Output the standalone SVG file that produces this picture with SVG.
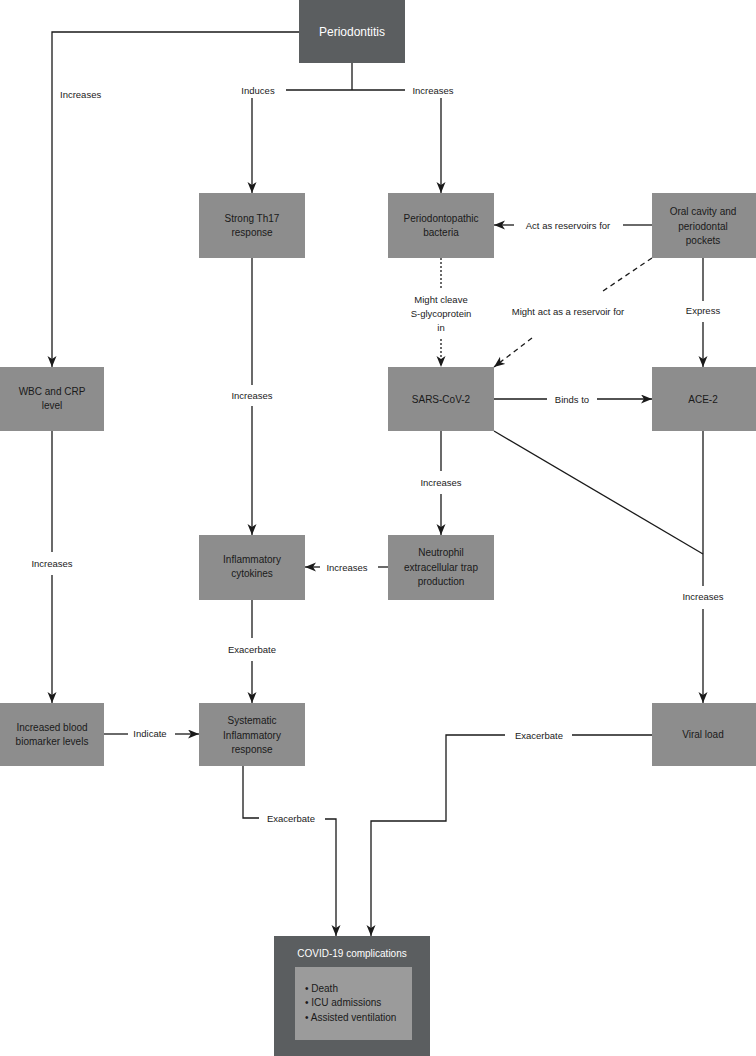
<svg xmlns="http://www.w3.org/2000/svg" width="756" height="1056" viewBox="0 0 756 1056">
<defs>
<marker id="arr" markerUnits="userSpaceOnUse" markerWidth="12" markerHeight="10" refX="11" refY="4.5" orient="auto">
<path d="M0,0 L11,4.5 L0,9 L3,4.5 z" fill="#1a1a1a"/>
</marker>
</defs>
<style>
.node{fill:#8d8d8d}
.dark{fill:#5b5e60}
.inner{fill:#9b9b9b}
.nt{font-family:"Liberation Sans",Arial,sans-serif;font-size:10px;fill:#1a1a1a;text-anchor:middle}
.wt{font-family:"Liberation Sans",Arial,sans-serif;fill:#ffffff;text-anchor:middle}
.lbl{font-family:"Liberation Sans",Arial,sans-serif;font-size:9.5px;fill:#1a1a1a;text-anchor:middle}
.c{fill:none;stroke:#1a1a1a;stroke-width:1.3}
.a{marker-end:url(#arr)}
.dot{stroke-dasharray:2,2}
.dash{stroke-dasharray:5,4}
</style>
<rect width="756" height="1056" fill="#ffffff"/>

<g id="connectors">
<!-- Periodontitis to WBC -->
<path class="c a" d="M299,32 H52 V367"/>
<!-- Periodontitis down split -->
<path class="c" d="M352,63 V90 M286,90 H405"/>
<path class="c a" d="M252,98 V193"/>
<path class="c a" d="M441,98 V193"/>
<!-- Oral cavity to Periodontopathic -->
<path class="c" d="M652,225 H623"/>
<path class="c a" d="M514,225 H494"/>
<!-- Periodontopathic dotted to SARS -->
<path class="c dot" d="M441,258 V289"/>
<path class="c dot a" d="M441,339 V367"/>
<!-- Oral cavity dashed to SARS -->
<path class="c dash" d="M652,258 L600,293"/>
<path class="c dash a" d="M532,338 L494,367"/>
<!-- Express -->
<path class="c" d="M703,258 V301"/>
<path class="c a" d="M703,322 V367"/>
<!-- Th17 to cytokines -->
<path class="c" d="M252,258 V385"/>
<path class="c a" d="M252,406 V535"/>
<!-- Binds to -->
<path class="c" d="M494,399 H547"/>
<path class="c a" d="M597,399 H652"/>
<!-- SARS diagonal to viral load line -->
<path class="c" d="M494,431 L703,554"/>
<!-- ACE-2 to viral load -->
<path class="c" d="M703,431 V586"/>
<path class="c a" d="M703,609 V703"/>
<!-- SARS to NET -->
<path class="c" d="M441,431 V471"/>
<path class="c a" d="M441,494 V535"/>
<!-- NET to cytokines -->
<path class="c" d="M388,567 H378"/>
<path class="c a" d="M320,567 H305"/>
<!-- WBC to biomarkers -->
<path class="c" d="M52,431 V552"/>
<path class="c a" d="M52,575 V703"/>
<!-- cytokines to systematic -->
<path class="c" d="M252,600 V638"/>
<path class="c a" d="M252,661 V703"/>
<!-- Indicate -->
<path class="c" d="M104,734 H128"/>
<path class="c a" d="M175,734 H199"/>
<!-- Viral load exacerbate -->
<path class="c" d="M652,735 H572"/>
<path class="c a" d="M505,735 H446 V821 H371 V936"/>
<!-- Systematic exacerbate -->
<path class="c" d="M243,766 V818 H259"/>
<path class="c a" d="M325,819 H336 V936"/>
</g>

<g id="labels">
<text class="lbl" x="60" y="97.5" style="text-anchor:start">Increases</text>
<text class="lbl" x="258" y="93.5">Induces</text>
<text class="lbl" x="433" y="93.5">Increases</text>
<text class="lbl" x="568" y="228.5">Act as reservoirs for</text>
<text class="lbl" x="441" y="302.5">Might cleave</text>
<text class="lbl" x="441" y="316.5">S-glycoprotein</text>
<text class="lbl" x="441" y="330.5">in</text>
<text class="lbl" x="568" y="314.5">Might act as a reservoir for</text>
<text class="lbl" x="703" y="313.5">Express</text>
<text class="lbl" x="252" y="398.5">Increases</text>
<text class="lbl" x="572" y="402.5">Binds to</text>
<text class="lbl" x="441" y="485.5">Increases</text>
<text class="lbl" x="703" y="599.5">Increases</text>
<text class="lbl" x="347" y="570.5">Increases</text>
<text class="lbl" x="52" y="566.5">Increases</text>
<text class="lbl" x="252" y="652.5">Exacerbate</text>
<text class="lbl" x="150" y="736.5">Indicate</text>
<text class="lbl" x="539" y="738.5">Exacerbate</text>
<text class="lbl" x="291" y="821.5">Exacerbate</text>
</g>

<g id="periodontitis">
<rect class="dark" x="299" y="0" width="106" height="63"/>
<text class="wt" x="352" y="36" font-size="12">Periodontitis</text>
</g>
<g id="th17">
<rect class="node" x="199" y="193" width="106" height="65"/>
<text class="nt" x="252" y="222">Strong Th17</text>
<text class="nt" x="252" y="236">response</text>
</g>
<g id="bacteria">
<rect class="node" x="388" y="193" width="106" height="65"/>
<text class="nt" x="441" y="222">Periodontopathic</text>
<text class="nt" x="441" y="236">bacteria</text>
</g>
<g id="oral">
<rect class="node" x="652" y="193" width="104" height="65"/>
<text class="nt" x="703" y="215">Oral cavity and</text>
<text class="nt" x="703" y="229.5">periodontal</text>
<text class="nt" x="703" y="244">pockets</text>
</g>
<g id="wbc">
<rect class="node" x="0" y="367" width="104" height="64"/>
<text class="nt" x="52" y="395">WBC and CRP</text>
<text class="nt" x="52" y="409">level</text>
</g>
<g id="sars">
<rect class="node" x="388" y="367" width="106" height="64"/>
<text class="nt" x="441" y="402.5">SARS-CoV-2</text>
</g>
<g id="ace2">
<rect class="node" x="652" y="367" width="104" height="64"/>
<text class="nt" x="703" y="402.5">ACE-2</text>
</g>
<g id="cytokines">
<rect class="node" x="199" y="535" width="106" height="65"/>
<text class="nt" x="252" y="563">Inflammatory</text>
<text class="nt" x="252" y="577">cytokines</text>
</g>
<g id="net">
<rect class="node" x="388" y="535" width="106" height="65"/>
<text class="nt" x="441" y="556">Neutrophil</text>
<text class="nt" x="441" y="570.5">extracellular trap</text>
<text class="nt" x="441" y="585">production</text>
</g>
<g id="biomarkers">
<rect class="node" x="0" y="703" width="104" height="63"/>
<text class="nt" x="52" y="731">Increased blood</text>
<text class="nt" x="52" y="745">biomarker levels</text>
</g>
<g id="systematic">
<rect class="node" x="199" y="703" width="106" height="63"/>
<text class="nt" x="252" y="724">Systematic</text>
<text class="nt" x="252" y="738.5">Inflammatory</text>
<text class="nt" x="252" y="753">response</text>
</g>
<g id="viral">
<rect class="node" x="652" y="703" width="104" height="63"/>
<text class="nt" x="703" y="738">Viral load</text>
</g>
<g id="covid">
<rect class="dark" x="274" y="936" width="156" height="120"/>
<text class="wt" x="352" y="957" font-size="10">COVID-19 complications</text>
<rect class="inner" x="295" y="967" width="117" height="73"/>
<text class="nt" x="305" y="992" style="text-anchor:start">• Death</text>
<text class="nt" x="305" y="1006" style="text-anchor:start">• ICU admissions</text>
<text class="nt" x="305" y="1020.5" style="text-anchor:start">• Assisted ventilation</text>
</g>
</svg>
